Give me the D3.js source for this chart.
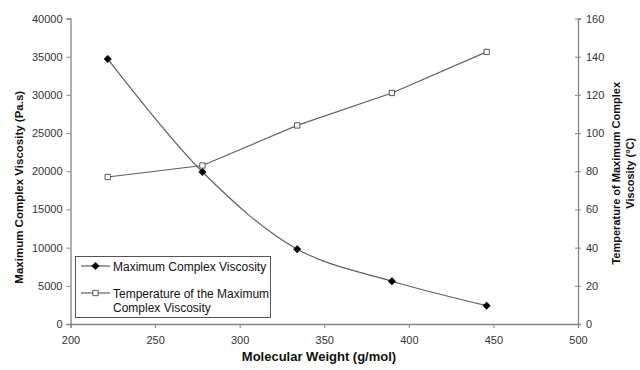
<!DOCTYPE html>
<html>
<head>
<meta charset="utf-8">
<script src="https://cdn.jsdelivr.net/npm/d3@7"></script>
<style>
  html, body { margin: 0; padding: 0; background: #fff; }
  svg { display: block; font-family: "Liberation Sans", Arial, sans-serif; }
</style>
</head>
<body>
<svg id="chart" width="640" height="370"></svg>
<script>
// Molecular weight of each sample (g/mol)
const molecularWeight = [222, 278, 334, 390, 446];
// Maximum complex viscosity (Pa.s), left axis
const maxViscosity = [34700, 19900, 9800, 5600, 2400];
// Temperature at which the maximum occurs (°C), right axis
const maxTemperature = [77, 83, 104, 121, 142.5];

const xTicks = [200, 250, 300, 350, 400, 450, 500];
const yLeftTicks = [0, 5000, 10000, 15000, 20000, 25000, 30000, 35000, 40000];
const yRightTicks = [0, 20, 40, 60, 80, 100, 120, 140, 160];

const seriesNames = ["Maximum Complex Viscosity", ["Temperature of the Maximum", "Complex Viscosity"]];

const svg = d3.select("#chart");
const plot = { left: 70.5, right: 578, top: 18.5, bottom: 324 };
const axisColor = "#858585";
const lineColor = "#606060";

const x = d3.scaleLinear().domain([200, 500]).range([plot.left, plot.right]);
const yL = d3.scaleLinear().domain([0, 40000]).range([plot.bottom, plot.top]);
const yR = d3.scaleLinear().domain([0, 160]).range([plot.bottom, plot.top]);

// X axis
const gx = svg.append("g").attr("transform", `translate(0,${plot.bottom})`)
  .call(d3.axisBottom(x).tickValues(xTicks).tickSize(4).tickPadding(8).tickFormat(d3.format("d")));
// Left axis
const gl = svg.append("g").attr("transform", `translate(${plot.left},0)`)
  .call(d3.axisLeft(yL).tickValues(yLeftTicks).tickSize(4).tickPadding(4).tickFormat(d3.format("d")));
// Right axis (ticks cross the line)
const gr = svg.append("g").attr("transform", `translate(${plot.right},0)`)
  .call(d3.axisRight(yR).tickValues(yRightTicks).tickSize(3).tickPadding(5).tickFormat(d3.format("d")));
gr.selectAll(".tick line").attr("x1", -3);

[gx, gl, gr].forEach(g => {
  g.select(".domain").attr("stroke", axisColor).attr("stroke-width", 1.3);
  g.selectAll(".tick line").attr("stroke", axisColor).attr("stroke-width", 1);
  g.selectAll(".tick text").attr("fill", "#333").style("font-size", "11px")
    .style("font-family", "'Liberation Sans', Arial, sans-serif");
});

// Axis titles
svg.append("text")
  .attr("transform", `translate(23,${(plot.top + plot.bottom) / 2 + 16}) rotate(-90)`)
  .attr("text-anchor", "middle")
  .style("font-size", "11.5px").style("font-weight", "bold").attr("fill", "#111")
  .text("Maximum Complex Viscosity (Pa.s)");

const rt = svg.append("text")
  .attr("transform", `translate(620,${(plot.top + plot.bottom) / 2 + 2}) rotate(-90)`)
  .attr("text-anchor", "middle")
  .style("font-size", "11px").style("font-weight", "bold").attr("fill", "#111");
rt.append("tspan").attr("x", 0).attr("y", 0).text("Temperature of Maximum Complex");
rt.append("tspan").attr("x", 0).attr("dy", 14).text("Viscosity (°C)");

svg.append("text")
  .attr("x", 319).attr("y", 361)
  .attr("text-anchor", "middle")
  .style("font-size", "13px").style("font-weight", "bold").attr("fill", "#111")
  .text("Molecular Weight (g/mol)");

// Series lines
const visLine = d3.line().x((d, i) => x(molecularWeight[i])).y(d => yL(d)).curve(d3.curveCatmullRom.alpha(0.5));
const tempLine = d3.line().x((d, i) => x(molecularWeight[i])).y(d => yR(d));

svg.append("path").attr("d", tempLine(maxTemperature))
  .attr("fill", "none").attr("stroke", lineColor).attr("stroke-width", 1.2);
svg.append("path").attr("d", visLine(maxViscosity))
  .attr("fill", "none").attr("stroke", lineColor).attr("stroke-width", 1.2);

const diamond = d3.symbol().type(d3.symbolDiamond2).size(36);
const square = d3.symbol().type(d3.symbolSquare2).size(36);

svg.append("g").selectAll("path").data(maxViscosity).join("path")
  .attr("d", diamond)
  .attr("transform", (d, i) => `translate(${x(molecularWeight[i])},${yL(d)})`)
  .attr("fill", "#000").attr("stroke", "#000").attr("stroke-width", 0.5);

svg.append("g").selectAll("path").data(maxTemperature).join("path")
  .attr("d", square)
  .attr("transform", (d, i) => `translate(${x(molecularWeight[i])},${yR(d)})`)
  .attr("fill", "#fff").attr("stroke", "#555").attr("stroke-width", 1);

// Legend
const lg = svg.append("g");
lg.append("rect").attr("x", 75.5).attr("y", 256.5).attr("width", 195).attr("height", 61)
  .attr("fill", "#fff").attr("stroke", "#555").attr("stroke-width", 1);

const legendRows = [
  { y: 266, symbol: diamond, fill: "#000", stroke: "#000" },
  { y: 293, symbol: square, fill: "#fff", stroke: "#555" }
];
legendRows.forEach((r, i) => {
  lg.append("line").attr("x1", 81).attr("x2", 110).attr("y1", r.y).attr("y2", r.y)
    .attr("stroke", lineColor).attr("stroke-width", 1.2);
  lg.append("path").attr("d", r.symbol).attr("transform", `translate(95.5,${r.y})`)
    .attr("fill", r.fill).attr("stroke", r.stroke).attr("stroke-width", i === 0 ? 0.5 : 1);
  const t = lg.append("text").attr("x", 113).attr("y", r.y + 4.5)
    .style("font-size", "12px").attr("fill", "#111");
  const name = seriesNames[i];
  if (Array.isArray(name)) {
    name.forEach((s, k) => t.append("tspan").attr("x", 113).attr("dy", k === 0 ? 0 : 14).text(s));
  } else {
    t.text(name);
  }
});
</script>
</body>
</html>
